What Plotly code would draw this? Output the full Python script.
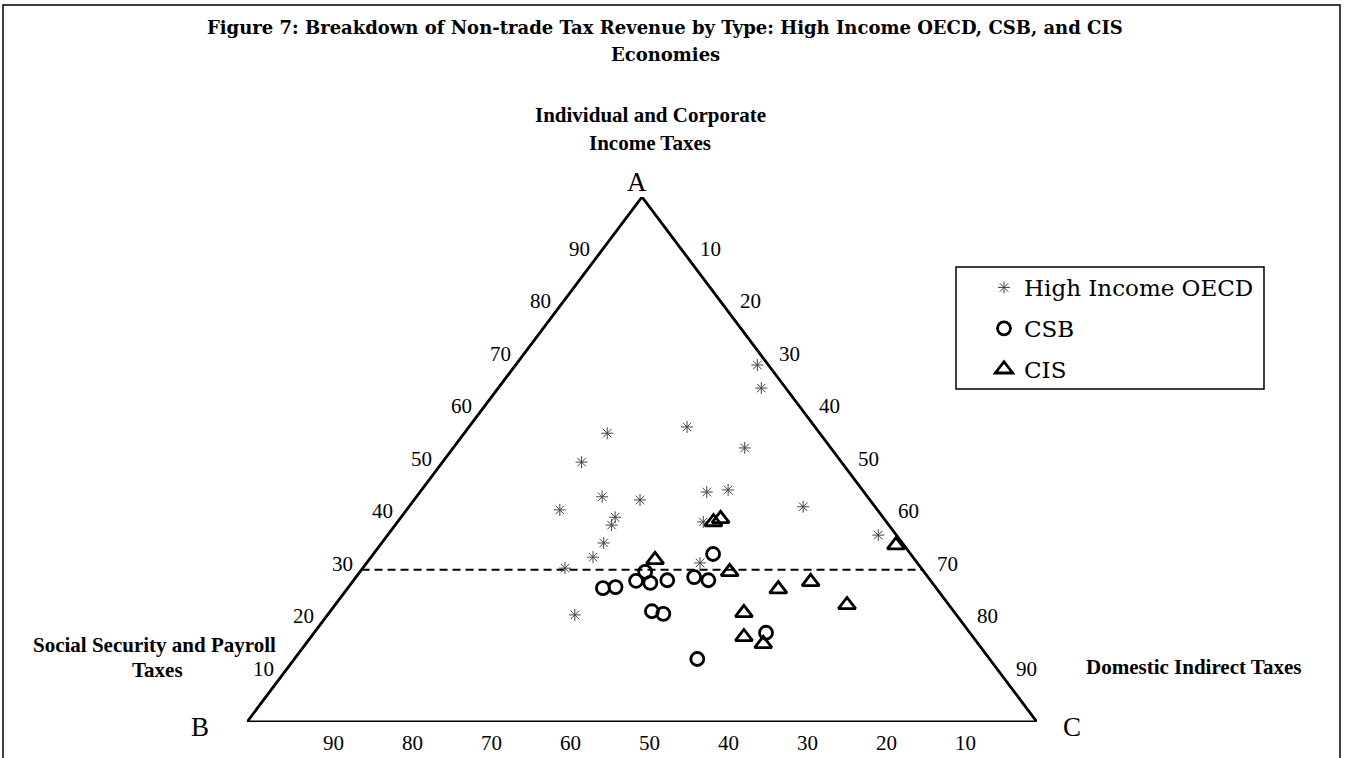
import plotly.graph_objects as go

# Non-trade tax revenue shares (%): A = income taxes, B = social security/payroll, C = domestic indirect
oecd_income = [55.0, 49.5, 56.2, 52.2, 42.9, 42.3, 40.4, 39.0, 37.5, 43.8, 44.2,
               38.1, 31.4, 34.1, 29.3, 30.3, 68.0, 63.6, 20.4, 41.0, 35.6]
oecd_social = [26.9, 32.9, 16.2, 10.9, 33.6, 29.1, 40.2, 33.9, 35.1, 19.9, 17.0,
               23.2, 40.5, 37.8, 45.1, 27.5, 1.4, 3.1, 48.3, 9.1, 2.3]
oecd_indirect = [18.1, 17.6, 27.6, 36.9, 23.5, 28.6, 19.4, 27.1, 27.4, 36.3, 38.8,
                 38.7, 28.1, 28.1, 25.6, 42.2, 30.6, 33.3, 31.3, 49.9, 62.1]

csb_income = [32.0, 25.5, 25.7, 26.9, 28.6, 26.5, 27.0, 21.1, 20.6, 27.6, 27.0, 17.0, 12.0]
csb_social = [25.0, 42.2, 40.5, 37.3, 35.3, 35.7, 33.3, 38.2, 37.0, 29.6, 28.1, 25.8, 37.0]
csb_indirect = [43.0, 32.3, 33.8, 35.8, 36.1, 37.8, 39.7, 40.7, 42.4, 42.8, 44.9, 57.2, 51.0]

cis_income = [30.9, 28.6, 25.3, 26.7, 22.3, 20.8, 16.2, 14.9, 38.1, 38.7, 33.7]
cis_social = [32.9, 24.6, 20.1, 15.3, 12.9, 26.7, 29.0, 27.2, 21.9, 20.7, 1.0]
cis_indirect = [36.2, 46.8, 54.6, 58.0, 64.8, 52.5, 54.8, 57.9, 40.0, 40.6, 65.3]

# Reference line for income-tax share
threshold_income = 29.0

tick_values = [10, 20, 30, 40, 50, 60, 70, 80, 90]
vertex_labels = ["A", "B", "C"]
series_names = ["High Income OECD", "CSB", "CIS"]
title_lines = ["Figure 7: Breakdown of Non-trade Tax Revenue by Type: High Income OECD, CSB, and CIS",
               "Economies"]
top_title = ["Individual and Corporate", "Income Taxes"]
left_title = ["Social Security and Payroll", "Taxes"]
right_title = ["Domestic Indirect Taxes"]

W, H = 1345, 758
SERIF = "Liberation Serif, Times New Roman, serif"
WIDE_SERIF = "DejaVu Serif, serif"


def project(a, b, c):
    """Barycentric (A top, B bottom-left, C bottom-right) to plane coordinates."""
    xs, ys = [], []
    for ai, bi, ci in zip(a, b, c):
        s = ai + bi + ci
        xs.append(100.0 * (ci + ai / 2.0) / s)
        ys.append(100.0 * ai / s)
    return xs, ys


def px(xp):
    return xp / W


def py(yp):
    return 1.0 - yp / H


def label(x, y, text, font, bold=False):
    return dict(x=px(x), y=py(y), xref="paper", yref="paper",
                text=f"<b>{text}</b>" if bold else text, showarrow=False,
                xanchor="center", yanchor="middle", font=font)


fig = go.Figure()

# Triangle frame through the three pure compositions
fx, fy = project([100, 0, 0, 100], [0, 100, 0, 0], [0, 0, 100, 0])
fig.add_trace(go.Scatter(x=fx, y=fy, mode="lines", line=dict(color="black", width=2.8),
                         hoverinfo="skip", showlegend=False, cliponaxis=False))

# Dashed income-share reference line
lx, ly = project([threshold_income, threshold_income],
                 [100 - threshold_income, 0], [0, 100 - threshold_income])
fig.add_trace(go.Scatter(x=lx, y=ly, mode="lines",
                         line=dict(color="black", width=2, dash="8px,5px"),
                         hoverinfo="skip", showlegend=False, cliponaxis=False))

ox, oy = project(oecd_income, oecd_social, oecd_indirect)
fig.add_trace(go.Scatter(x=ox, y=oy, mode="markers", name=series_names[0], legendgroup="oecd",
                         marker=dict(symbol="asterisk-open", size=10, color="#444444",
                                     line=dict(color="#444444", width=1)),
                         cliponaxis=False))

cx, cy = project(csb_income, csb_social, csb_indirect)
fig.add_trace(go.Scatter(x=cx, y=cy, mode="markers", name=series_names[1], legendgroup="csb",
                         marker=dict(symbol="circle-open", size=13, color="black",
                                     line=dict(color="black", width=2.8)),
                         cliponaxis=False))

tx, ty = project(cis_income, cis_social, cis_indirect)
fig.add_trace(go.Scatter(x=tx, y=ty, mode="markers", name=series_names[2], legendgroup="cis",
                         marker=dict(symbol="triangle-up-open", size=15, color="black",
                                     line=dict(color="black", width=2.8)),
                         cliponaxis=False))

annotations = []
tick_font = dict(family=SERIF, size=21, color="black")

# Left edge: income-tax share
for v in tick_values:
    x, y = project([v], [100 - v], [0])
    annotations.append(dict(x=x[0], y=y[0], xref="x", yref="y", text=str(v), showarrow=False,
                            xanchor="center", yanchor="middle",
                            xshift=-23, yshift=1, font=tick_font))
# Right edge: domestic indirect share
for v in tick_values:
    x, y = project([100 - v], [0], [v])
    annotations.append(dict(x=x[0], y=y[0], xref="x", yref="y", text=str(v), showarrow=False,
                            xanchor="center", yanchor="middle",
                            xshift=29, yshift=1, font=tick_font))
# Base: social security share
for v in tick_values:
    x, y = project([0], [v], [100 - v])
    annotations.append(dict(x=x[0], y=y[0], xref="x", yref="y", text=str(v), showarrow=False,
                            xanchor="center", yanchor="middle",
                            xshift=7, yshift=-21, font=tick_font))

vertex_font = dict(family=SERIF, size=27, color="black")
annotations += [
    label(637, 182, vertex_labels[0], vertex_font),
    label(200, 727, vertex_labels[1], vertex_font),
    label(1072, 727, vertex_labels[2], vertex_font),
]

corner_font = dict(family=SERIF, size=21, color="black")
annotations += [
    label(650, 115, top_title[0], corner_font, bold=True),
    label(650, 143, top_title[1], corner_font, bold=True),
    label(154, 645, left_title[0], corner_font, bold=True),
    label(157, 670, left_title[1], corner_font, bold=True),
    label(1193, 667, right_title[0], corner_font, bold=True),
]

title_font = dict(family=WIDE_SERIF, size=18, color="black")
annotations += [
    label(665, 27, title_lines[0], title_font, bold=True),
    label(665, 54, title_lines[1], title_font, bold=True),
]

fig.update_layout(
    width=W, height=H,
    margin=dict(l=0, r=0, t=0, b=0),
    paper_bgcolor="white", plot_bgcolor="white",
    xaxis=dict(domain=[px(247), px(1037)], range=[0, 100], visible=False, fixedrange=True),
    yaxis=dict(domain=[py(722), py(197)], range=[0, 100], visible=False, fixedrange=True),
    annotations=annotations,
    shapes=[
        # page frame
        dict(type="rect", xref="paper", yref="paper", x0=px(3), x1=px(1340), y0=-0.02, y1=py(5),
             line=dict(color="black", width=1.5)),
        # legend frame
        dict(type="rect", xref="paper", yref="paper", x0=px(956), x1=px(1264), y0=py(389), y1=py(267),
             line=dict(color="black", width=1.5)),
    ],
    legend=dict(x=px(962), y=py(266), xanchor="left", yanchor="top",
                borderwidth=0, bgcolor="rgba(0,0,0,0)",
                font=dict(family=WIDE_SERIF, size=23, color="black"),
                tracegroupgap=8, indentation=22, itemwidth=30),
    showlegend=True,
)

fig.write_html("out.html")
